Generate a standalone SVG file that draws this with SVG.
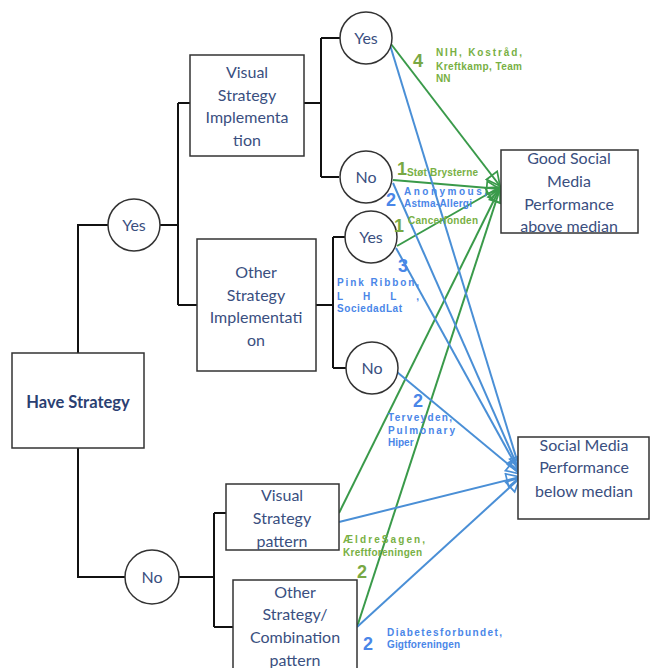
<svg xmlns="http://www.w3.org/2000/svg" width="650" height="668" viewBox="0 0 650 668">
<defs>
<style>
.box{fill:#fff;stroke:#333;stroke-width:1.5}
.circ{fill:#fff;stroke:#333;stroke-width:1.5}
.tree{fill:none;stroke:#111;stroke-width:2}
.nt{font-family:Lato,"Liberation Sans",sans-serif;font-size:16px;fill:#3a4f7f;text-anchor:middle}
.hb{font-weight:bold;fill:#2b3f72;font-size:16.5px}
.g{stroke:#3a9a4a;stroke-width:2;fill:none;marker-end:url(#ag)}
.b{stroke:#4a8fd6;stroke-width:2;fill:none;marker-end:url(#ab)}
.lg{font-family:"Liberation Sans",Arial,sans-serif;font-weight:bold;font-size:10px;fill:#78b044}
.lb{font-family:"Liberation Sans",Arial,sans-serif;font-weight:bold;font-size:10px;fill:#4a86e8}
.ng{font-family:"Liberation Sans",Arial,sans-serif;font-weight:bold;font-size:18px;fill:#78a844}
.nb{font-family:"Liberation Sans",Arial,sans-serif;font-weight:bold;font-size:18px;fill:#4a86e8}
</style>
<marker id="ag" viewBox="0 0 12 12" refX="11" refY="6" markerWidth="8" markerHeight="8" orient="auto" markerUnits="strokeWidth">
<path d="M1,1 L11,6 L1,11 Z" fill="#fff" fill-opacity="0" stroke="#3a9a4a" stroke-width="1.3"/>
</marker>
<marker id="ab" viewBox="0 0 12 12" refX="11" refY="6" markerWidth="8" markerHeight="8" orient="auto" markerUnits="strokeWidth">
<path d="M1,1 L11,6 L1,11 Z" fill="#fff" fill-opacity="0" stroke="#4a8fd6" stroke-width="1.3"/>
</marker>
</defs>
<rect width="650" height="668" fill="#fff"/>

<g id="tree-lines">
<path class="tree" d="M78,353 V225 H108"/>
<path class="tree" d="M78,448 V577 H125"/>
<path class="tree" d="M160,225 H178 M178,103 V305 M178,103 H190 M178,305 H197"/>
<path class="tree" d="M304,103 H321 M321,38 V177 M321,38 H340 M321,177 H339"/>
<path class="tree" d="M316,305 H333 M333,237 V368 M333,237 H345 M333,368 H346"/>
<path class="tree" d="M179,577 H214 M214,513 V627 M214,513 H226 M214,627 H233"/>
</g>

<g id="connectors">
<line class="g" x1="391" y1="44" x2="500" y2="186"/>
<line class="g" x1="393" y1="180" x2="500" y2="189"/>
<line class="g" x1="397" y1="246" x2="500" y2="187"/>
<line class="g" x1="339" y1="513" x2="500" y2="188"/>
<line class="g" x1="357" y1="627" x2="500" y2="189"/>
<line class="b" x1="390" y1="45" x2="520" y2="470"/>
<line class="b" x1="393" y1="183" x2="520" y2="472"/>
<line class="b" x1="396" y1="248" x2="520" y2="473"/>
<line class="b" x1="397" y1="372" x2="520" y2="474"/>
<line class="b" x1="339" y1="522" x2="520" y2="477"/>
<line class="b" x1="357" y1="627" x2="520" y2="478"/>
</g>

<g id="have-strategy">
<rect class="box" x="12" y="353" width="132" height="95"/>
<text class="nt hb" x="78" y="408">Have Strategy</text>
</g>
<g id="yes-main">
<circle class="circ" cx="134" cy="225" r="26"/>
<text class="nt" x="134" y="231">Yes</text>
</g>
<g id="no-main">
<circle class="circ" cx="152" cy="577" r="27"/>
<text class="nt" x="152" y="583">No</text>
</g>
<g id="visual-impl">
<rect class="box" x="190" y="55" width="114" height="101"/>
<text class="nt" x="247" y="78">Visual</text>
<text class="nt" x="247" y="101">Strategy</text>
<text class="nt" x="247" y="123">Implementa</text>
<text class="nt" x="247" y="146">tion</text>
</g>
<g id="other-impl">
<rect class="box" x="197" y="239" width="119" height="132"/>
<text class="nt" x="256" y="278">Other</text>
<text class="nt" x="256" y="301">Strategy</text>
<text class="nt" x="256" y="323">Implementati</text>
<text class="nt" x="256" y="346">on</text>
</g>
<g id="visual-pattern">
<rect class="box" x="226" y="484" width="113" height="66"/>
<text class="nt" x="282" y="501">Visual</text>
<text class="nt" x="282" y="524">Strategy</text>
<text class="nt" x="282" y="547">pattern</text>
</g>
<g id="other-pattern">
<rect class="box" x="233" y="580" width="124" height="100"/>
<text class="nt" x="295" y="598">Other</text>
<text class="nt" x="295" y="620">Strategy/</text>
<text class="nt" x="295" y="643">Combination</text>
<text class="nt" x="295" y="666">pattern</text>
</g>
<g id="yes-visual">
<circle class="circ" cx="366" cy="38" r="26"/>
<text class="nt" x="366" y="44">Yes</text>
</g>
<g id="no-visual">
<circle class="circ" cx="366" cy="177" r="26"/>
<text class="nt" x="366" y="183">No</text>
</g>
<g id="yes-other">
<circle class="circ" cx="371" cy="237" r="26"/>
<text class="nt" x="371" y="243">Yes</text>
</g>
<g id="no-other">
<circle class="circ" cx="372" cy="368" r="26"/>
<text class="nt" x="372" y="374">No</text>
</g>
<g id="good-performance">
<rect class="box" x="501" y="150" width="137" height="83"/>
<text class="nt" x="569" y="164">Good Social</text>
<text class="nt" x="569" y="187">Media</text>
<text class="nt" x="569" y="210">Performance</text>
<text class="nt" x="569" y="232">above median</text>
</g>
<g id="below-performance">
<rect class="box" x="518" y="437" width="131" height="82"/>
<text class="nt" x="584" y="451">Social Media</text>
<text class="nt" x="584" y="473">Performance</text>
<text class="nt" x="584" y="497">below median</text>
</g>

<g id="labels">
<text class="ng" x="413" y="67">4</text>
<text class="lg" x="436" y="56" textLength="86" lengthAdjust="spacing">NIH, Kostråd,</text>
<text class="lg" x="436" y="70" textLength="86" lengthAdjust="spacing">Kreftkamp, Team</text>
<text class="lg" x="436" y="82">NN</text>

<text class="ng" x="397" y="175">1</text>
<text class="lg" x="407" y="176" textLength="71" lengthAdjust="spacing">Støt Brysterne</text>
<text class="nb" x="386" y="206">2</text>
<text class="lb" x="404" y="195" textLength="83" lengthAdjust="spacing">Anonymous,</text>
<text class="lb" x="404" y="207" textLength="68" lengthAdjust="spacing">Astma-Allergi</text>
<text class="ng" x="394" y="232">1</text>
<text class="lg" x="408" y="224" textLength="70" lengthAdjust="spacing">Cancerfonden</text>

<text class="nb" x="398" y="272">3</text>
<text class="lb" x="337" y="286" textLength="82" lengthAdjust="spacing">Pink Ribbon,</text>
<text class="lb" x="337" y="300" textLength="82" lengthAdjust="spacing">L H L ,</text>
<text class="lb" x="337" y="312" textLength="65" lengthAdjust="spacing">SociedadLat</text>

<text class="nb" x="413" y="407">2</text>
<text class="lb" x="388" y="421" textLength="64" lengthAdjust="spacing">Terveyden,</text>
<text class="lb" x="388" y="434" textLength="67" lengthAdjust="spacing">Pulmonary</text>
<text class="lb" x="388" y="446">Hiper</text>

<text class="lg" x="343" y="543" textLength="82" lengthAdjust="spacing">ÆldreSagen,</text>
<text class="lg" x="343" y="556" textLength="79" lengthAdjust="spacing">Kreftforeningen</text>
<text class="ng" x="357" y="578">2</text>

<text class="nb" x="363" y="650">2</text>
<text class="lb" x="387" y="636" textLength="115" lengthAdjust="spacing">Diabetesforbundet,</text>
<text class="lb" x="387" y="648" textLength="73" lengthAdjust="spacing">Gigtforeningen</text>
</g>
</svg>
